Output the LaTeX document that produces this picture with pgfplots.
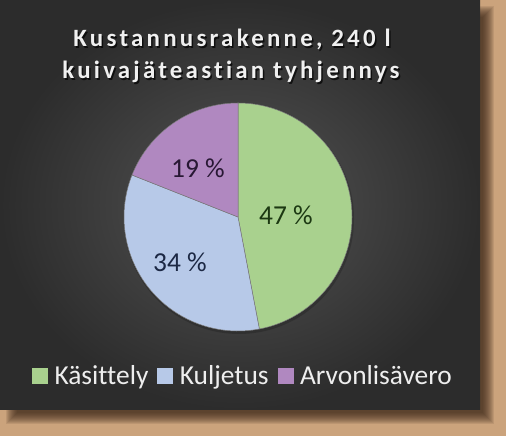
\documentclass[border=0pt]{standalone}
\usepackage{pgfplots}
\pgfplotsset{compat=1.18}
\usepackage{fontspec}
\setmainfont{Carlito}[Ligatures=NoCommon]
\newfontfamily\titlefont{Carlito}[LetterSpace=13, Ligatures=NoCommon]

\definecolor{kgreen}{RGB}{169,209,142}
\definecolor{kblue}{RGB}{183,201,232}
\definecolor{kpurple}{RGB}{176,136,192}
\definecolor{frametan}{RGB}{203,163,124}
\definecolor{shadowc}{RGB}{60,40,25}
\definecolor{panelin}{RGB}{84,84,84}
\definecolor{panelout}{RGB}{44,44,44}
\definecolor{piedge}{RGB}{120,120,120}
\definecolor{lblgreen}{RGB}{28,56,18}
\definecolor{lblblue}{RGB}{28,40,68}
\definecolor{lblpurple}{RGB}{40,24,52}
\definecolor{legtext}{RGB}{238,238,238}

\begin{document}
\begin{tikzpicture}[x=1bp,y=1bp]
% frame, shadow and panel
\fill[frametan] (0,0) rectangle (506,436);
\foreach \i in {0,...,11} {
  \fill[shadowc, opacity=0.11] (6+\i,12+\i) rectangle (494-\i,430-\i);
}
\shade[inner color=panelin, outer color=panelout] (0,26) rectangle (480,436);

\begin{axis}[
  at={(0,0)}, anchor=south west,
  x=1bp, y=1bp,
  xmin=0, xmax=506, ymin=0, ymax=436,
  hide axis, clip=false,
  legend columns=-1,
  legend style={at={(axis cs:243,60)}, anchor=center,
    draw=none, fill=none, text=legtext, inner sep=0pt,
    font=\fontsize{27.5}{32}\selectfont,
    /tikz/every odd column/.append style={column sep=5bp},
    /tikz/every even column/.append style={column sep=7bp}},
]
% pie shadow
\fill[black, opacity=0.18] (axis cs:239,217) circle[radius=115bp];

% wedges: 47, 34, 19 percent, clockwise from the top
\fill[kgreen, draw=piedge, line width=0.5bp] (axis cs:238,219) -- ++(90:114bp)
  arc[start angle=90, delta angle={-3.6*47}, radius=114bp] -- cycle;
\fill[kblue, draw=piedge, line width=0.5bp] (axis cs:238,219) -- ++({90-3.6*47}:114bp)
  arc[start angle={90-3.6*47}, delta angle={-3.6*34}, radius=114bp] -- cycle;
\fill[kpurple, draw=piedge, line width=0.5bp] (axis cs:238,219) -- ++({90-3.6*81}:114bp)
  arc[start angle={90-3.6*81}, delta angle={-3.6*19}, radius=114bp] -- cycle;

\node[text=lblgreen, font=\fontsize{27.5}{32}\selectfont] at (axis cs:286,221) {47 \%};
\node[text=lblblue, font=\fontsize{27.5}{32}\selectfont] at (axis cs:180,174) {34 \%};
\node[text=lblpurple, font=\fontsize{27.5}{32}\selectfont] at (axis cs:198,268) {19 \%};

\addlegendimage{legend image code/.code={\fill[kgreen] (0bp,-7.5bp) rectangle (15bp,7.5bp);}}
\addlegendentry{Käsittely}
\addlegendimage{legend image code/.code={\fill[kblue] (0bp,-7.5bp) rectangle (15bp,7.5bp);}}
\addlegendentry{Kuljetus}
\addlegendimage{legend image code/.code={\fill[kpurple] (0bp,-7.5bp) rectangle (15bp,7.5bp);}}
\addlegendentry{Arvonlisävero}
\end{axis}

% title with drop shadow
\begin{scope}[font=\titlefont\bfseries\fontsize{25}{34}\selectfont]
  \node[anchor=base, text=black, opacity=0.7] at (233.5,387.5) {Kustannusrakenne, 240 l};
  \node[anchor=base, text=black, opacity=0.7] at (232.5,355.5) {kuivajäteastian tyhjennys};
  \node[anchor=base, text=white!94!black] at (232,389) {Kustannusrakenne, 240 l};
  \node[anchor=base, text=white!94!black] at (231,357) {kuivajäteastian tyhjennys};
\end{scope}
\end{tikzpicture}
\end{document}
